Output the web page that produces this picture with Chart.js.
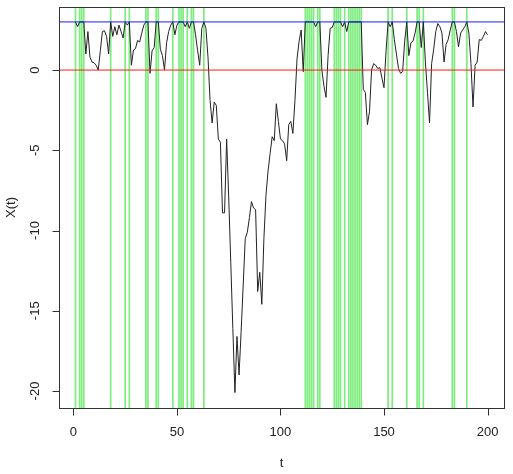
<!DOCTYPE html>
<html>
<head>
<meta charset="utf-8">
<script src="https://cdn.jsdelivr.net/npm/chart.js@4.4.1/dist/chart.umd.min.js"></script>
<style>
html,body{margin:0;padding:0;background:#fff;}
canvas{display:block;}
</style>
</head>
<body>
<canvas id="c" width="513" height="474"></canvas>
<script>
// ---- data ----
const tValues = Array.from({length: 200}, (_, i) => i + 1);
const xValues = [
  3, 2.7, 3, 3, 3, 1.0, 2.4, 0.8, 0.5, 0.45,
  0.3, 0.0, 1.2, 2.4, 2.45, 2.1, 1.0, 3, 2.1, 2.7,
  2.2, 2.8, 2.4, 2.0, 3, 2.8, 3, 0.3, 1.25, 1.35,
  1.85, 1.75, 2.3, 2.8, 3, 3, -0.2, 1.2, 1.4, 3,
  3, 1.3, 0.9, 0.0, 1.7, 2.4, 2.8, 3, 2.2, 2.8,
  3, 3, 3, 2.7, 3, 2.6, 3, 3, 2.2, 1.2,
  0.3, 2.6, 3, 2.6, 0.8, -1.9, -3.3, -2.0, -2.2, -4.3,
  -4.5, -8.9, -8.9, -4.3, -7.9, -12.0, -16.1, -20.1, -16.6, -19.0,
  -16.3, -13.4, -10.5, -10.1, -9.2, -8.2, -8.6, -8.7, -13.8, -12.6,
  -14.6, -10.5, -7.8, -6.3, -5.2, -4.15, -4.4, -2.1, -3.2, -4.3,
  -4.4, -4.6, -5.65, -3.4, -3.2, -3.95, -1.9, 0.7, 1.8, 2.5,
  -0.1, 3, 3, 3, 3, 3, 2.7, 3, 3, 0.0,
  -1.0, -1.7, 0.9, 2.6, 2.65, 3, 3, 3, 3, 2.7,
  3, 2.4, 3, 3, 3, 3, 3, 3, 3, -1.2,
  -1.4, -3.4, -2.6, 0.0, 0.4, 0.3, 0.1, 0.15, -0.5, -1.1,
  1.2, 3, 2.7, 3, 1.9, 1.0, 0.1, -0.2, -0.1, 1.8,
  3, 0.9, 1.7, 1.8, 2.3, 3, 3, 1.4, 3, 0.5,
  -1.4, -3.3, 0.4, 1.3, 2.4, 2.9, 2.7, 2.3, 0.5, 1.6,
  1.9, 2.5, 3, 3, 2.4, 1.45, 2.3, 2.5, 2.7, 3,
  2.3, 0.4, -2.3, 0.3, 0.5, 1.9, 1.85, 2.1, 2.4, 2.2
];
const hitTimes = [1, 3, 4, 5, 18, 25, 27, 35, 36, 40, 41, 48, 51, 52, 53, 55, 57, 58, 63,
  112, 113, 114, 115, 116, 118, 119, 126, 127, 128, 129, 131, 133, 134, 135, 136, 137, 138, 139,
  152, 154, 161, 166, 167, 169, 183, 184, 190];
const upperLevel = 3;
const lowerLevel = 0;
const xTicks = [0, 50, 100, 150, 200];
const yTicks = [0, -5, -10, -15, -20];
const xTitle = "t";
const yTitle = "X(t)";

// ---- ranges (R style 4% extension) ----
const xMin = -6.96, xMax = 207.96;
const yMin = -21.06, yMax = 3.93;

const seriesPts = tValues.map((t, i) => ({x: t, y: xValues[i]}));
const hitPts = [];
hitTimes.forEach(h => { hitPts.push({x: h, y: yMin}, {x: h, y: yMax}, {x: h, y: null}); });

const FONT = '"Liberation Sans", Arial, Helvetica, sans-serif';

const axesPlugin = {
  id: 'rAxes',
  afterDraw(chart) {
    const ctx = chart.ctx;
    const a = chart.chartArea;
    const xs = chart.scales.x, ys = chart.scales.y;
    ctx.save();
    ctx.strokeStyle = '#333';
    ctx.lineWidth = 1;
    // box
    ctx.strokeRect(Math.round(a.left) + 0.5, Math.round(a.top) + 0.5,
      Math.round(a.right - a.left), Math.round(a.bottom - a.top));
    // x axis ticks
    const by = Math.round(a.bottom) + 0.5;
    ctx.beginPath();
    ctx.moveTo(xs.getPixelForValue(xTicks[0]), by);
    ctx.lineTo(xs.getPixelForValue(xTicks[xTicks.length - 1]), by);
    xTicks.forEach(v => {
      const px = Math.round(xs.getPixelForValue(v)) + 0.5;
      ctx.moveTo(px, by); ctx.lineTo(px, by + 7);
    });
    // y axis ticks
    const lx = Math.round(a.left) + 0.5;
    ctx.moveTo(lx, ys.getPixelForValue(yTicks[0]));
    ctx.lineTo(lx, ys.getPixelForValue(yTicks[yTicks.length - 1]));
    yTicks.forEach(v => {
      const py = Math.round(ys.getPixelForValue(v)) + 0.5;
      ctx.moveTo(lx, py); ctx.lineTo(lx - 7, py);
    });
    ctx.stroke();
    // labels
    ctx.fillStyle = '#222';
    ctx.font = '13px ' + FONT;
    ctx.textAlign = 'center';
    ctx.textBaseline = 'middle';
    xTicks.forEach(v => ctx.fillText(String(v), xs.getPixelForValue(v), 432));
    yTicks.forEach(v => {
      ctx.save();
      ctx.translate(35, ys.getPixelForValue(v));
      ctx.rotate(-Math.PI / 2);
      ctx.fillText(String(v), 0, 0);
      ctx.restore();
    });
    ctx.fillText(xTitle, (a.left + a.right) / 2, 463);
    ctx.save();
    ctx.translate(11, (a.top + a.bottom) / 2);
    ctx.rotate(-Math.PI / 2);
    ctx.fillText(yTitle, 0, 0);
    ctx.restore();
    ctx.restore();
  }
};

new Chart(document.getElementById('c'), {
  type: 'scatter',
  data: {
    datasets: [
      {data: [{x: xMin, y: upperLevel}, {x: xMax, y: upperLevel}], showLine: true,
        borderColor: '#1a1aff', borderWidth: 1, pointRadius: 0, order: 1},
      {data: [{x: xMin, y: lowerLevel}, {x: xMax, y: lowerLevel}], showLine: true,
        borderColor: '#ff1a1a', borderWidth: 1, pointRadius: 0, order: 2},
      {data: seriesPts, showLine: true, borderColor: '#222', borderWidth: 1,
        pointRadius: 0, tension: 0, order: 3},
      {data: hitPts, showLine: true, spanGaps: false, borderColor: '#7fec7f', borderWidth: 1.7,
        pointRadius: 0, order: 4}
    ]
  },
  options: {
    responsive: false,
    animation: false,
    devicePixelRatio: 1,
    layout: {padding: {left: 59, right: 9, top: 7, bottom: 66}},
    plugins: {legend: {display: false}, tooltip: {enabled: false}},
    scales: {
      x: {type: 'linear', min: xMin, max: xMax, display: false},
      y: {type: 'linear', min: yMin, max: yMax, display: false}
    }
  },
  plugins: [axesPlugin]
});
</script>
</body>
</html>
